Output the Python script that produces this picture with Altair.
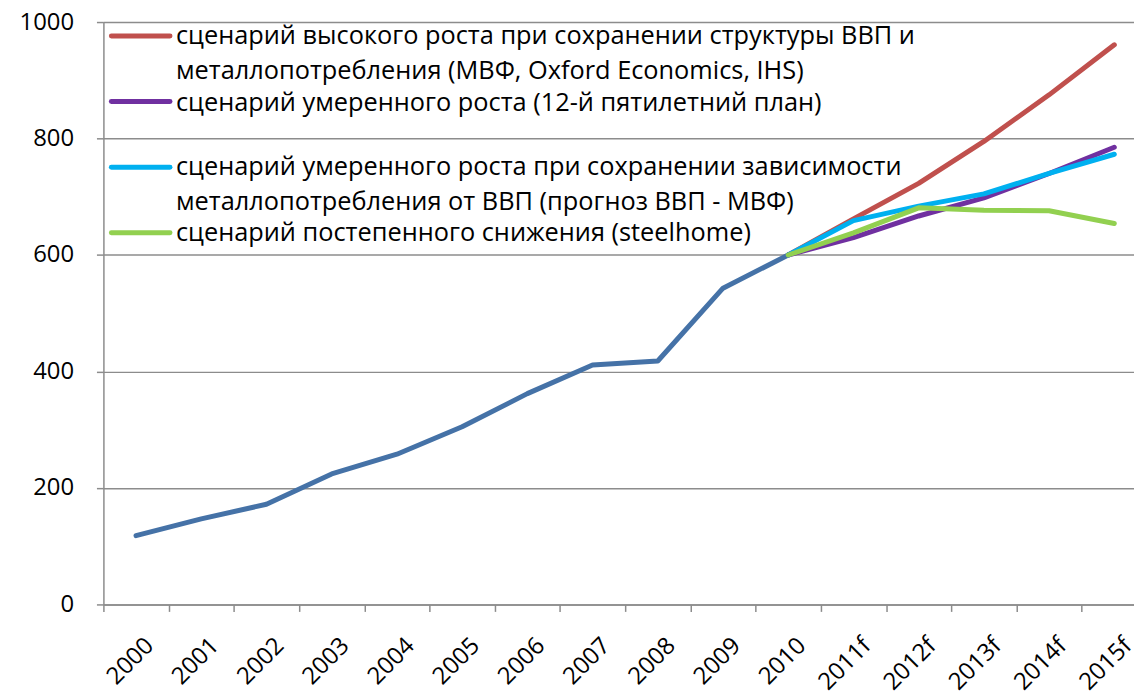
import altair as alt
import pandas as pd

# ---------------- data ----------------
years = ["2000", "2001", "2002", "2003", "2004", "2005", "2006", "2007",
         "2008", "2009", "2010", "2011f", "2012f", "2013f", "2014f", "2015f"]

hist_years = years[:11]
hist_values = [118, 147, 172, 224, 258, 305, 362, 411, 418, 543, 600]

fc_years = ["2010", "2011f", "2012f", "2013f", "2014f", "2015f"]
high_growth = [600, 662, 723, 795, 875, 961]
moderate_plan = [600, 630, 667, 698, 740, 785]
moderate_gdp = [600, 659, 684, 705, 740, 773]
gradual_decline = [600, 638, 681, 677, 676, 654]

series_names = ["fact", "high", "plan", "gdp", "decline"]
series_colors = ["#4572A7", "#C0504D", "#7030A0", "#00B0F0", "#92D050"]

legend_lines = [
    "сценарий высокого роста при сохранении структуры ВВП и",
    "металлопотребления (МВФ, Oxford Economics, IHS)",
    "сценарий умеренного роста (12-й пятилетний план)",
    "сценарий умеренного роста при сохранении зависимости",
    "металлопотребления от ВВП (прогноз ВВП - МВФ)",
    "сценарий постепенного снижения (steelhome)",
]
legend_series = ["high", "plan", "gdp", "decline"]

# ---------------- tables ----------------
rows = []
for y, v in zip(hist_years, hist_values):
    rows.append({"series": "fact", "year": y, "value": v})
for name, vals in [("high", high_growth), ("plan", moderate_plan),
                   ("gdp", moderate_gdp), ("decline", gradual_decline)]:
    for y, v in zip(fc_years, vals):
        rows.append({"series": name, "year": y, "value": v})
df = pd.DataFrame(rows)

# layout (pixels inside the plot area)
W, H = 1037, 586
FONT = "Open Sans"
GRID = "#8C8C8C"

text_y = [14, 49, 81, 146, 181, 212]
sym_y = [14, 80, 146, 212]
leg_text = pd.DataFrame({"t": legend_lines, "px": [73] * 6, "py": text_y})
leg_sym = pd.DataFrame({"series": legend_series, "x1": [8] * 4, "x2": [67] * 4, "py": sym_y})

color_scale = alt.Scale(domain=series_names, range=series_colors)

xenc = alt.X(
    "year:O",
    sort=years,
    bandPosition=0.5,
    scale=alt.Scale(type="band", domain=years, range=[0, 1050], paddingInner=0, paddingOuter=0),
    axis=alt.Axis(
        title=None, tickBand="extent", labelAngle=-45, labelAlign="right",
        labelBaseline="top", labelOffset=5, labelPadding=22, tickSize=7,
        labelOverlap=False, labelFont=FONT, labelFontSize=24, labelColor="black",
        domainColor=GRID, domainWidth=1.5, tickColor=GRID, tickWidth=1.5, grid=False,
    ),
)
yenc = alt.Y(
    "value:Q",
    scale=alt.Scale(domain=[0, 1000], nice=False),
    axis=alt.Axis(
        title=None, values=[0, 200, 400, 600, 800, 1000], format="d", tickSize=7, labelPadding=23,
        labelFont=FONT, labelFontSize=24, labelColor="black",
        domainColor=GRID, domainWidth=1.5, tickColor=GRID, tickWidth=1.5,
        grid=True, gridColor=GRID, gridWidth=1.5,
    ),
)

layers = []
for s in series_names:
    layers.append(
        alt.Chart(df[df.series == s]).mark_line(strokeWidth=5, strokeCap="round", strokeJoin="round")
        .encode(x=xenc, y=yenc, color=alt.Color("series:N", scale=color_scale, legend=None))
    )

sym = alt.Chart(leg_sym).mark_rule(strokeWidth=5, strokeCap="round").encode(
    x=alt.X("x1:Q", scale=None), x2="x2:Q", y=alt.Y("py:Q", scale=None),
    color=alt.Color("series:N", scale=color_scale, legend=None),
)
txt = alt.Chart(leg_text).mark_text(
    align="left", baseline="middle", font=FONT, fontSize=25.5, color="black"
).encode(x=alt.X("px:Q", scale=None), y=alt.Y("py:Q", scale=None), text="t:N")

chart = alt.layer(*layers, sym, txt).properties(
    width=W, height=H,
    padding={"left": 96, "top": 12, "right": 0, "bottom": 90},
    autosize=alt.AutoSizeParams(type="none"),
    background="white",
).configure_view(stroke=None)

chart.save("out.html", embed_options={"renderer": "svg", "actions": False})
